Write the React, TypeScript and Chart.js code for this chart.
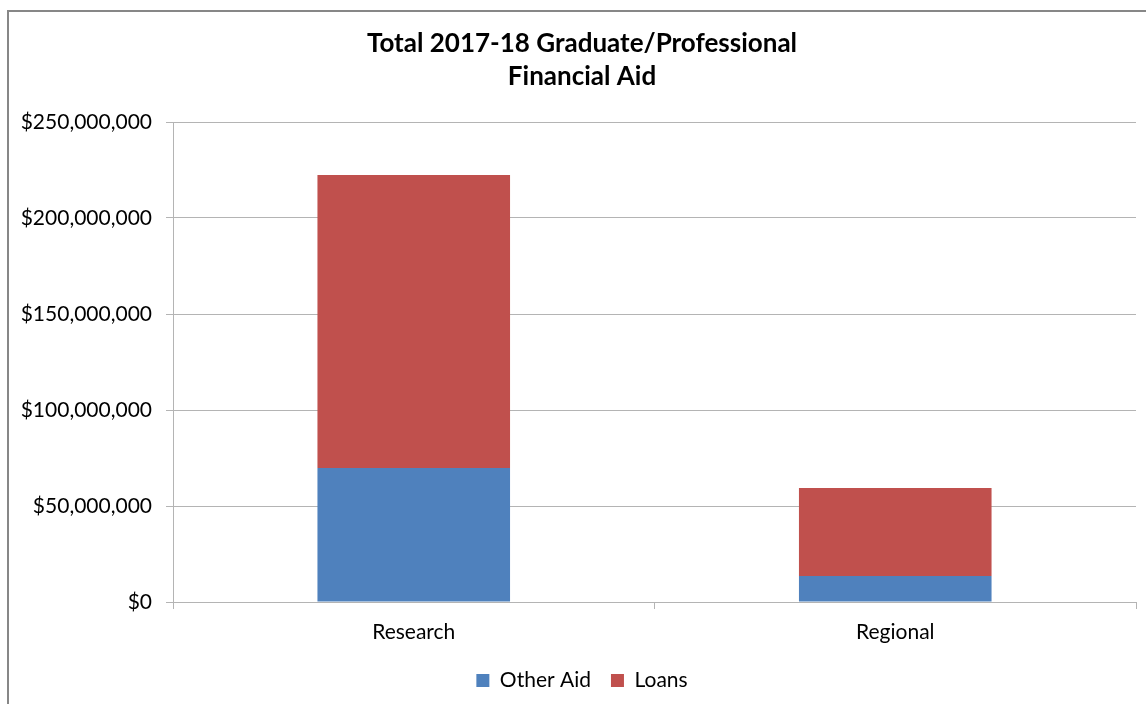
import React, { useEffect, useRef } from "react";
import { Chart, registerables } from "chart.js";

Chart.register(...registerables);

const titleLines = ["Total 2017-18 Graduate/Professional", "Financial Aid"];
const categories = ["Research", "Regional"];
const seriesNames = ["Other Aid", "Loans"];
const otherAidValues = [69800000, 13500000];
const loansValues = [152600000, 45900000];
const yMin = 0;
const yMax = 250000000;
const yStep = 50000000;

const FONT = "Lato, 'Open Sans', sans-serif";
const GRID = "#b4b4b4";

const frame = {
  id: "frame",
  beforeDraw(chart: any) {
    const ctx = chart.ctx;
    ctx.save();
    ctx.fillStyle = "#ffffff";
    ctx.fillRect(0, 0, chart.width, chart.height);
    ctx.strokeStyle = "#878787";
    ctx.lineWidth = 2;
    ctx.strokeRect(8, 11, chart.width + 20, chart.height + 20);
    ctx.restore();
  },
};

// centre the title and legend over the framed area rather than the whole canvas
const shiftBlocks = {
  id: "shiftBlocks",
  afterLayout(chart: any) {
    if (chart.titleBlock) chart.titleBlock.left = 28;
    if (chart.legend) chart.legend.left = 28;
  },
};

export default function App() {
  const ref = useRef<HTMLCanvasElement>(null);
  useEffect(() => {
    if (!ref.current) return;
    const chart = new Chart(ref.current, {
      type: "bar",
      data: {
        labels: categories,
        datasets: [
          {
            label: seriesNames[0],
            data: otherAidValues,
            backgroundColor: "#4F81BD",
            barPercentage: 0.4,
            categoryPercentage: 1,
          },
          {
            label: seriesNames[1],
            data: loansValues,
            backgroundColor: "#C0504D",
            barPercentage: 0.4,
            categoryPercentage: 1,
          },
        ],
      },
      plugins: [frame, shiftBlocks],
      options: {
        responsive: false,
        animation: false,
        layout: { padding: { left: 0, right: 10, top: 0, bottom: 3 } },
        plugins: {
          tooltip: { enabled: false },
          title: {
            display: true,
            text: titleLines,
            color: "#000",
            font: { family: FONT, size: 26, weight: "bold", lineHeight: "33px" },
            padding: { top: 27, bottom: 29 },
          },
          legend: {
            position: "bottom",
            labels: {
              color: "#000",
              boxWidth: 13,
              boxHeight: 13,
              padding: 20,
              font: { family: FONT, size: 21 },
            },
          },
        },
        scales: {
          x: {
            stacked: true,
            offset: true,
            grid: {
              display: true,
              offset: true,
              drawOnChartArea: false,
              tickLength: 7,
              color: GRID,
            },
            border: { display: true, color: GRID },
            ticks: { color: "#000", font: { family: FONT, size: 21 }, padding: 11 },
            afterFit(scale: any) {
              scale.height = 48;
            },
          },
          y: {
            stacked: true,
            min: yMin,
            max: yMax,
            grid: { color: GRID, tickLength: 7 },
            border: { display: true, color: GRID },
            ticks: {
              stepSize: yStep,
              color: "#000",
              padding: 14,
              font: { family: FONT, size: 21 },
              callback: (v: any) => "$" + Number(v).toLocaleString("en-US"),
            },
            afterFit(scale: any) {
              scale.width = 173;
            },
          },
        },
      },
    });
    return () => chart.destroy();
  }, []);
  return (
    <div style={{ position: "absolute", left: 0, top: 0, width: 1146, height: 704 }}>
      <canvas ref={ref} width={1146} height={704} />
    </div>
  );
}
